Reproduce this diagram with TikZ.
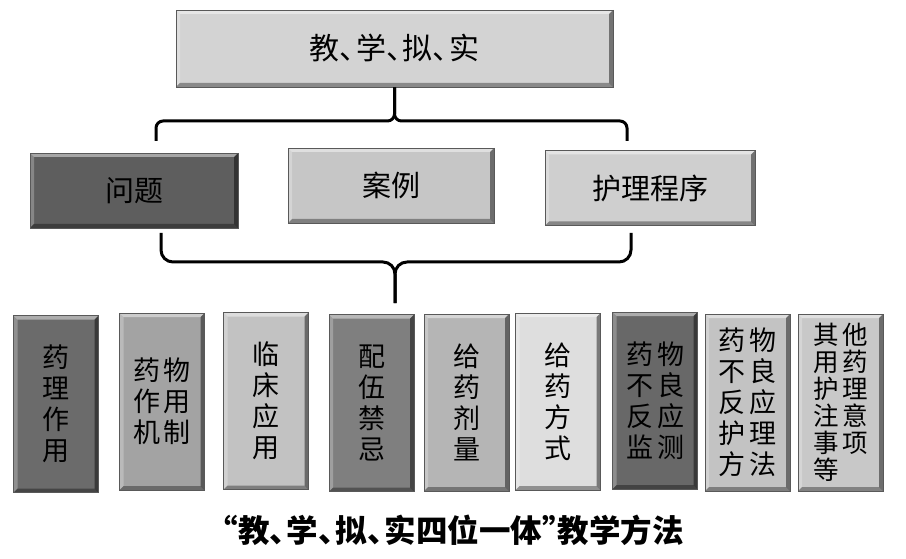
\documentclass[tikz,border=0pt]{standalone}
\usepackage{fontspec}
\newfontfamily\cjk{Noto Sans CJK SC}
\definecolor{ctop}{HTML}{D3D3D3}
\definecolor{cwt}{HTML}{5E5E5E}
\definecolor{cal}{HTML}{C6C6C6}
\definecolor{chl}{HTML}{CFCFCF}
\definecolor{cb1}{HTML}{6B6B6B}
\definecolor{cb2}{HTML}{A3A3A3}
\definecolor{cb3}{HTML}{C2C2C2}
\definecolor{cb4}{HTML}{7F7F7F}
\definecolor{cb5}{HTML}{B5B5B5}
\definecolor{cb6}{HTML}{DEDEDE}
\definecolor{cb7}{HTML}{686868}
\definecolor{cb8}{HTML}{C3C3C3}
\definecolor{cb9}{HTML}{C8C8C8}
\tikzset{
  bevel/.style={rectangle, draw=black!65, line width=0.8pt, inner sep=0pt,
    path picture={
      \fill[white,opacity=.45] (path picture bounding box.north west) -- (path picture bounding box.north east)
        -- ([shift={(-4pt,-4pt)}]path picture bounding box.north east) -- ([shift={(4pt,-4pt)}]path picture bounding box.north west) -- cycle;
      \fill[white,opacity=.25] (path picture bounding box.north west) -- (path picture bounding box.south west)
        -- ([shift={(4pt,4pt)}]path picture bounding box.south west) -- ([shift={(4pt,-4pt)}]path picture bounding box.north west) -- cycle;
      \fill[black,opacity=.35] (path picture bounding box.south west) -- (path picture bounding box.south east)
        -- ([shift={(-4pt,4pt)}]path picture bounding box.south east) -- ([shift={(4pt,4pt)}]path picture bounding box.south west) -- cycle;
      \fill[black,opacity=.45] (path picture bounding box.north east) -- (path picture bounding box.south east)
        -- ([shift={(-4pt,4pt)}]path picture bounding box.south east) -- ([shift={(-4pt,-4pt)}]path picture bounding box.north east) -- cycle;
    }},
  wide/.style={bevel, minimum height=75pt, font=\cjk\fontsize{29}{32}\selectfont},
  tall/.style={bevel, minimum width=85pt, minimum height=177pt, align=center,
    font=\cjk\fontsize{27}{31}\selectfont},
  brace/.style={line width=3pt, rounded corners=7pt, line join=round}
}
\newcommand{\gp}{\hspace{4pt}}
\newcommand{\mydun}{\makebox[0.55em][l]{、}}
\newcommand{\mylq}{\makebox[0.5em][r]{“}}
\newcommand{\myrq}{\makebox[0.5em][l]{”}}
\begin{document}
\begin{tikzpicture}[x=1pt,y=-1pt]
\useasboundingbox (0,0) rectangle (906,559);
% top
\node[wide, fill=ctop, minimum width=437pt, minimum height=77pt, font=\cjk\fontsize{30}{32}\selectfont] (top) at (394.5,48.5) {教\mydun 学\mydun 拟\mydun 实};
% middle
\node[wide, fill=cwt, minimum width=208pt] (wt) at (134,190.5) {问题};
\node[wide, fill=cal, minimum width=206pt] (al) at (391,185.5) {案例};
\node[wide, fill=chl, minimum width=210pt] (hl) at (650,188) {护理程序};
% bottom
\node[tall, fill=cb1] (b1) at (56,404) {药\\理\\作\\用};
\node[tall, fill=cb2] (b2) at (162,401.5) {药\gp 物\\作\gp 用\\机\gp 制};
\node[tall, fill=cb3] (b3) at (266,401) {临\\床\\应\\用};
\node[tall, fill=cb4] (b4) at (371.5,403) {配\\伍\\禁\\忌};
\node[tall, fill=cb5] (b5) at (466.5,402.5) {给\\药\\剂\\量};
\node[tall, fill=cb6] (b6) at (558,401.5) {给\\药\\方\\式};
\node[tall, fill=cb7] (b7) at (655,400.5) {药\gp 物\\不\gp 良\\反\gp 应\\监\gp 测};
\node[tall, fill=cb8] (b8) at (747.5,402.5) {药\gp 物\\不\gp 良\\反\gp 应\\护\gp 理\\方\gp 法};
\node[tall, fill=cb9, align=left, font=\cjk\fontsize{25.5}{27}\selectfont] (b9) at (840.5,402.5) {其\gp 他\\用\gp 药\\护\gp 理\\注\gp 意\\事\gp 项\\等};
% brace coordinates
\coordinate (t1) at (156,141);
\coordinate (t2) at (627,141);
\coordinate (tm) at (394.5,121);
\coordinate (l1) at (161,233);
\coordinate (l2) at (631,233);
\coordinate (lm) at (395,262);
\coordinate (lb) at (395,303);
% top brace
\draw[brace] (t1) -- (t1 |- tm) -- (tm) -- (top.south);
\draw[brace] (t2) -- (t2 |- tm) -- (tm) -- (top.south);
% lower brace
\draw[brace, rounded corners=12pt] (l1) -- (l1 |- lm) -- (lm) -- (lb);
\draw[brace, rounded corners=12pt] (l2) -- (l2 |- lm) -- (lm) -- (lb);
% caption
\node[font=\cjk\bfseries\fontsize{31.5}{34}\selectfont] (cap) at (453,530) {\mylq 教\mydun 学\mydun 拟\mydun 实四位一体\myrq 教学方法};
\end{tikzpicture}
\end{document}
